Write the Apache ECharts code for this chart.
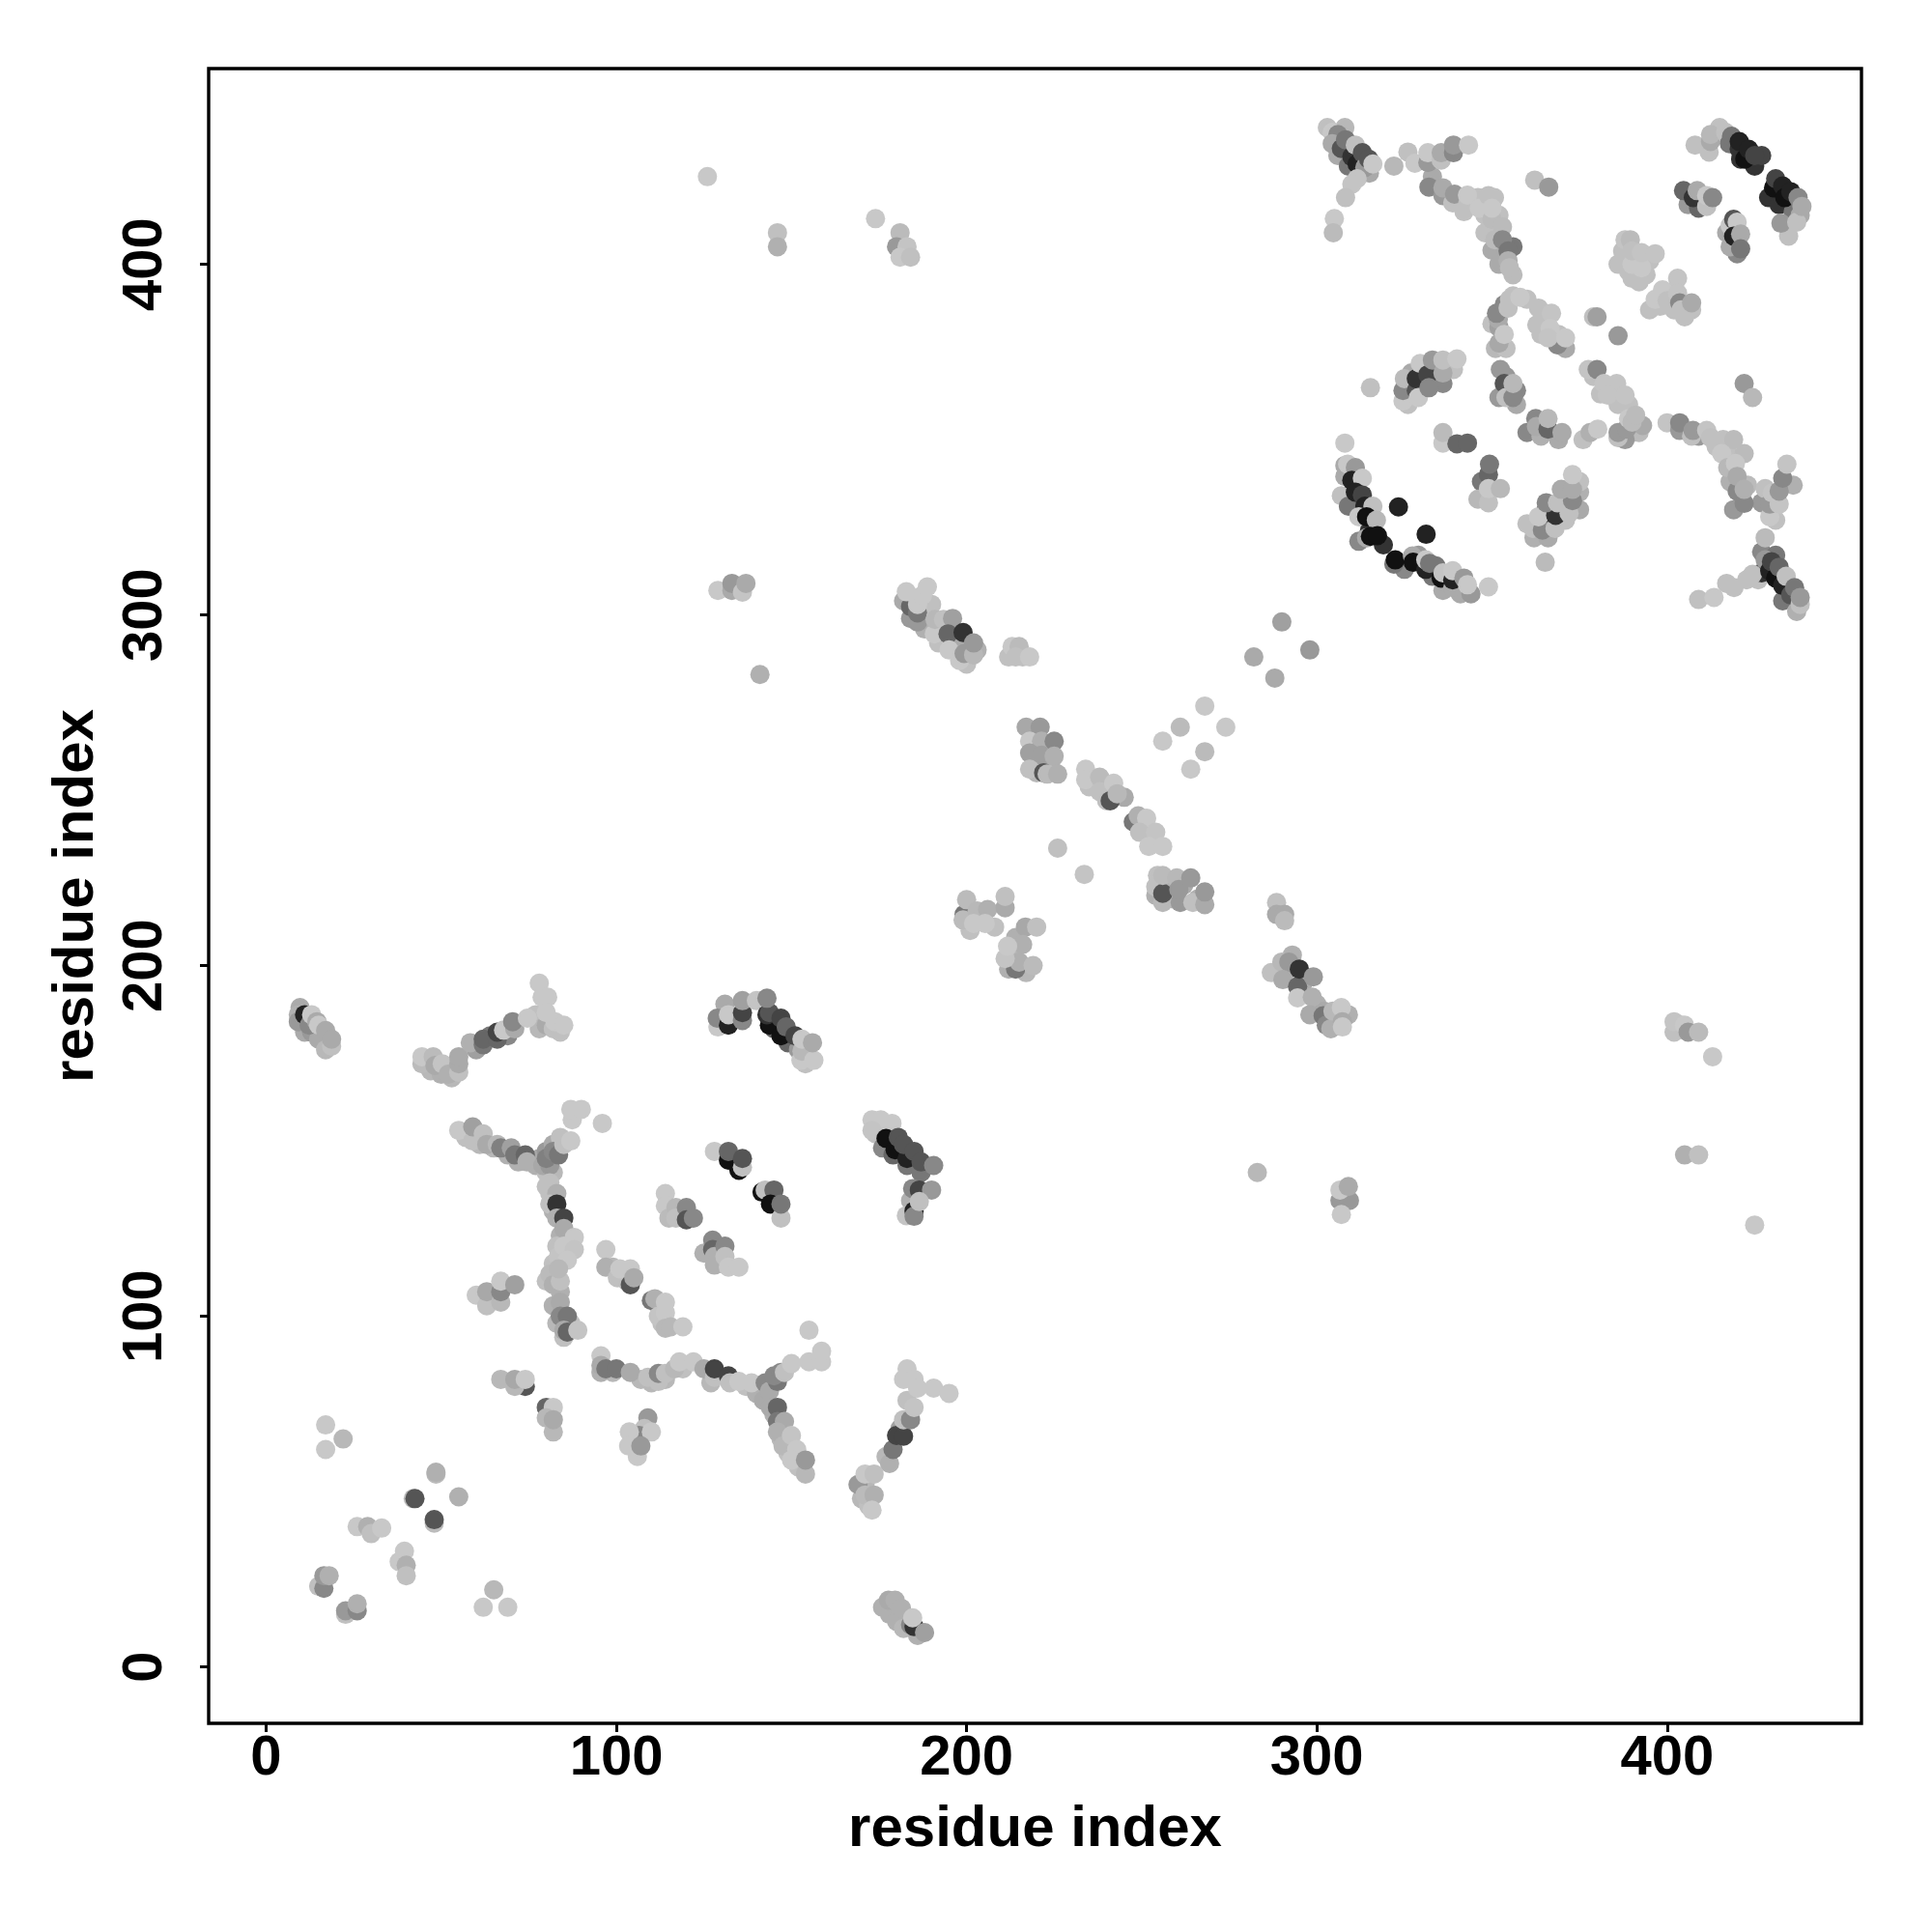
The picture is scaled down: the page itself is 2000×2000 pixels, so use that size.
<!DOCTYPE html>
<html><head><meta charset="utf-8"><style>html,body{margin:0;background:#fff}#c{width:2000px;height:2000px}</style>
<script src="https://cdn.jsdelivr.net/npm/echarts@6/dist/echarts.min.js"></script></head><body><div id="c"></div>
<script>
const tickValues=[0,100,200,300,400];
const axisTitle="residue index";
// each row: residue i, residue j, grey level of the contact
const underLayer=[[57,151,192],[61,149,184],[65,148,184],[69,146,176],[72,144,176],[77,143,176],[78,145,168],[80,147,153],[82,149,170],[84,151,192],[80,141,192],[82,141,184],[80,137,192],[82,130,176],[84,123,176],[86,121,192],[83,120,192],[82,115,192],[80,110,192],[84,107,176],[82,103,176],[83,98,184],[85,94,192],[87,98,192],[99,84,184],[107,82,184],[110,81,184],[114,82,184],[119,85,192],[127,81,184],[137,80,192],[140,78,176],[142,76,170],[145,72,176],[147,65,184],[149,61,192],[152,57,192],[101,112,192],[103,110,184],[99,114,184],[112,103,192],[113,98,192],[118,129,184],[125,118,176],[130,115,176],[174,152,192],[176,148,136],[179,146,102],[183,143,119],[187,141,119],[184,133,176],[171,52,184],[170,48,184],[172,46,192],[176,17,176],[178,15,176],[180,13,176],[182,11,184],[186,9,176],[183,76,192],[181,68,160],[177,60,184],[11,181,170],[13,181,153],[15,179,170],[17,176,184],[47,170,184],[50,169,176],[53,168,184],[60,176,160],[64,180,119],[69,180,136],[77,186,192],[78,182,184],[84,181,192],[131,189,170],[145,182,102],[149,178,102],[152,176,153],[154,172,192],[190,303,192],[184,299,153],[188,296,176],[192,292,192],[197,291,170],[200,286,192],[203,290,176],[212,288,192],[216,288,192],[219,266,170],[222,258,176],[220,255,184],[224,257,176],[235,251,192],[240,247,192],[239,252,192],[245,248,170],[250,240,192],[253,236,192],[254,220,176],[257,223,176],[259,219,176],[262,223,170],[266,219,176],[201,210,192],[204,214,192],[208,211,192],[213,204,184],[214,208,176],[212,199,176],[217,198,184],[291,198,176],[293,203,176],[296,195,170],[300,189,176],[302,187,170],[305,184,170],[309,186,176],[404,183,184],[179,150,136]];
const underLayer2=[[303,439,192],[308,439,184],[306,431,170],[309,428,119],[312,426,136],[315,426,170],[412,432,192],[415,439,192],[421,430,51],[425,428,51],[427,431,68],[429,419,51],[432,417,51],[436,415,119],[438,414,170],[406,417,153],[409,416,102],[417,409,170],[420,403,136],[418,405,170],[333,425,170],[326,432,192],[342,415,192],[346,419,192],[348,414,192],[352,414,192],[348,409,192],[350,404,170],[352,400,170],[356,405,119],[356,397,187],[386,400,192],[388,401,192],[389,398,192],[392,395,192],[394,397,192],[395,401,192],[395,387,192],[398,388,192],[401,392,192],[402,387,192],[405,385,192],[350,383,192],[352,382,160],[356,391,192],[360,390,192],[365,384,192],[364,380,192],[369,380,192],[371,376,170],[351,376,184],[354,376,192],[379,368,192],[381,363,192],[386,360,192],[389,360,192],[390,352,170],[392,352,187],[393,354,170],[388,350,153],[376,350,192],[326,360,192],[327,369,170],[331,366,119],[334,371,192],[336,366,136],[339,370,192],[354,368,153],[357,364,136],[357,360,170],[352,362,153],[360,352,136],[369,350,170],[364,351,176],[347,338,119],[346,333,184],[349,332,192],[307,334,192],[309,331,119],[315,324,51],[312,321,136],[319,320,51],[325,313,136],[329,317,153],[334,314,119],[333,311,119],[336,307,170],[341,306,170],[344,306,153],[360,326,192],[362,322,176],[366,322,170],[371,327,192],[375,330,170],[375,335,176],[375,338,192],[409,351,153],[414,348,192],[417,347,192],[422,346,187],[418,338,176],[423,337,187],[419,330,153],[431,327,192],[427,332,153],[428,336,192],[436,337,176],[427,318,136],[431,317,119],[433,304,119],[437,301,176],[417,309,192],[426,310,192],[427,312,51]];
const lowerLeft=[[17,69,200],[22,65,184],[17,62,200],[48.5,55,187],[48.5,55.5,176],[55,48.5,176],[42,48,187],[42.5,48,85],[48,41,187],[48,42,85],[26,40,200],[29,40,176],[30,38,192],[33,39.6,200],[38,30,200],[39.5,33,200],[40,29,176],[40,26,192],[15,23,192],[16.5,22.4,136],[16.5,26,153],[18,26,176],[22.7,15,192],[22.7,16,153],[26,16,136],[26,18,176],[65,22,184],[62,17,200],[69,17,200]];
const strandA=[[55,153,200],[59,150,192],[59,154,160],[62,152,192],[63,149,170],[66,149,184],[67,148,128],[70,148,160],[71,146,119],[74,146,102],[74.5,144,176],[79,143,168],[81,143,153],[80,145,128],[82,147,136],[83.5,146,119],[85,149,192],[87,150,200],[87.4,156,200],[87,159,200],[90,159,200],[96,155,200]];
const strandB=[[81,138,192],[81,135,192],[83,135,176],[81,132,192],[83,132,51],[83,128,176],[85,128,68],[85,125,170],[83.5,117,196],[85,120,200],[88,122.5,200],[88,119,196],[86,116,200],[81,112,187],[82,109,176],[84,110,192],[83.5,113.5,184],[84,104,170],[84,100,136],[86,100,119],[85,96,170],[86,95.5,102],[89,96,196]];
const patches1=[[60,106,200],[63,103,192],[63,107,168],[67,104,184],[67,107,136],[67,110,200],[71,109,160],[97,119,200],[97,114,176],[100.3,111,192],[101,113.5,200],[104,109,85],[104,113.5,200],[105,111,170],[110,104.5,119],[111,105,176],[112,100,196],[114,104,200],[114,101,200],[114,96.6,184],[115.5,97,184],[119,97,200],[114,135,200],[114,131.5,200],[115,128,187],[117,131,184],[117,128,192],[120,131,136],[120,127.5,85],[122,128,136],[127.5,121.7,136],[127.5,119,102],[128,117,176],[128,114.6,176],[131,120,136],[131,117,192],[132,114,200],[135,114,200]];
const patches2=[[128,147,200],[132,144.5,17],[132,147,102],[135,141.6,17],[136,142.5,192],[136,145,85],[141.6,135.4,17],[142.5,136,192],[145,136,102],[144,132,17],[147,128,192],[147,132,119],[74,80,85],[67,82,184],[71,80,184],[71,82,168],[74,82,200],[80,74,102],[82,74,200],[80,71,184],[82,67,184],[82,70.5,170]];
const arcK=[[95.6,88.7,200],[95.6,84,176],[95.6,86,170],[97,85,119],[100,85,119],[104,84,170],[109,82.6,192],[112,81.4,192],[112,83.7,136],[114,83.7,192],[116.6,85,184],[118,87,200],[122,87,200],[125,85,170],[128,82.6,192],[128,85,68],[132,83,68],[132.4,81,192],[135,81.4,200],[138.6,81,200],[142.5,81,136],[143.7,78.6,170],[146,81.4,119],[145,83,136],[147,84,136],[148,84,192],[150,86.5,200],[155,87,200],[158.6,87,200],[158.6,90,200],[155,96,200],[144,74,170],[146,74,102],[146,70,119],[148,70,170],[146,67,176],[147.6,63,184],[150,66,196],[151.5,62,200],[150,59,200],[154,55,184],[154,59,153]];
const patches3=[[109,71,153],[108,68,192],[106.5,66,136],[110,67,200],[103.7,67,200],[103.5,63,200],[106,60,200],[107,63,153],[173,156,200],[175.5,156,200],[178.7,155,200],[173,153,196],[177,150.7,17],[179.6,147.5,17],[180.5,151,85],[183,145,34],[182,149,85],[185,147,85],[187,144,85],[190.6,143,136],[184.6,136.4,136],[186.5,136,68],[190,136,153],[182.8,128.7,196],[185,130,34],[185,128.5,136],[186.5,132.7,192]];
const patches4=[[178,58,176],[179,62,119],[180,66,68],[182,65.8,68],[182,70.5,192],[184,70.5,136],[185,74,196],[182,82,200],[183,85,200],[185,82,200],[186,79.5,200],[190.6,79.5,200],[195,78,200],[169,52,153],[171,55,200],[173.6,55,192],[171,49,187],[173.6,49,176],[173,44.7,200],[177.7,19,170],[179.6,19,176],[181.4,16.7,176],[184,12,136],[185,11.5,51],[184.6,14,200],[188,9.8,160]];
const upperStrands=[[9.7,188,170],[9.2,186,176],[9.2,184,153],[11,186,34],[12.3,183,136],[13,186,200],[14.5,184,170],[15,183,200],[17,181.5,170],[18.7,177,192],[18.7,179,170],[44.5,172,187],[44.5,174,200],[47.7,174,187],[48.2,171.5,170],[50.3,172,196],[52,169,176],[55,169.6,192],[55,172,170],[55,174,170],[58.3,178,176],[62,177.4,119],[62,179,102],[66,179,102],[66,181,68],[67.8,181.6,200],[71,182,170],[70.4,184,136],[74.6,185,200],[78,195,200],[78.8,191,200],[80.4,191,200],[80,183,170],[80,186.6,200],[82,182,192],[82.5,184,200],[85,183,200],[129,182.5,200],[128.8,185,136],[132,183,34],[132,186,200],[136,184.3,136],[136,186.6,68],[136,190,160],[140,190,196],[143.7,183,17],[143,186,51],[143.7,186.6,85],[143,190.7,136],[147,180,17],[147,185,68],[148.5,182.5,102],[151,180,68],[152.7,173,200],[153,175.6,184],[153,179,200],[156.4,173,200],[156,178,170]];
const midLeft=[[126,425,200],[146,409,192],[146,405,176],[174,413,200],[181,409,187],[180,405,153],[183,405,196],[181,402,200],[184,402,192],[129,307,200],[133,307,170],[133,309,153],[136,306.5,196],[137,309,170],[141,283,176]];
const centreA=[[182,304,170],[184,302.4,102],[186,298,153],[186,300.6,119],[182.8,306.6,200],[186,303,200],[187.4,305.6,200],[188.8,308,200],[190.8,294.6,200],[191,298.7,184],[193.4,298.7,192],[196,299,160],[194.7,294.6,102],[199,295,51],[195,290,200],[198,287,200],[199.3,289,153],[202,288.6,184],[202,292,153],[213,291,200],[215,291,187],[214,288,192],[218,288,200]];
const centreB=[[217,268,168],[221,268,153],[218,264,200],[221.4,264,176],[225,264,136],[218,260.6,160],[221.4,260,160],[225,259.7,176],[218,256,192],[222,255,85],[223,254.6,187],[226,254.6,176],[234,256,200],[234,253,200],[238,253.7,187],[238,249.6,192],[242,252,200],[241,247,85],[243,249,184],[247.6,241,119],[249,242.7,176],[251.4,242,200],[249.4,238,192],[254,238,196],[252,234,200],[256,234,200],[226,233.5,192],[233.6,226,196]];
const centreC=[[254.5,225.7,192],[256,218,184],[254,222.5,192],[256,220.6,85],[256,225.7,187],[260,225,184],[261,218,153],[260.6,221.7,153],[264,225,153],[264.6,218,192],[268,217.4,170],[268,221,153],[290,298,160],[282,288,170],[298,290,153],[288,282,170],[268,274,200],[261,268,187],[274,268,200],[256,264,200],[268,261,187],[264,256,200],[199.3,214.6,119],[199,213,187],[200,218.8,187],[203,215.6,184],[206,216,176],[211,216.5,170],[211,219.7,192],[202,212,200],[205.3,212,200],[216.8,211,168],[220,211,192],[214,199,119],[215,201,176],[216,206,176],[211,202,196],[211.7,205.5,200],[219,200,187]];
const centreD=[[288.5,218,192],[288.5,214.6,170],[290.8,214.6,170],[290.8,212.8,187],[287,198,192],[290,201,184],[292,201,153],[290.3,196,170],[294.5,194,102],[295,199,51],[299,196.8,153],[294.5,190.8,200],[298.7,191,176],[298,186,170],[301.8,185.7,119],[302.7,183,136],[304,182,176],[304.6,187,184],[307,188,200],[307.3,184,170],[307.3,182.5,200],[283,141,184],[306.6,133,153],[309.3,133,153],[306.6,136,200],[309,137,170],[307,129,200],[402,181,192],[402,184,196],[405,183,200],[406,181,153],[409,181,187],[413,174,200],[405,146,176],[409,146,192],[425,126,200]];
const upperRightA=[[304.4,437.6,200],[306,437,136],[304.4,434.4,170],[307,433,85],[308.2,435.5,119],[310,430.7,51],[311,434,192],[311.5,428.6,34],[313,431.8,85],[313.7,427.6,153],[314.8,430,85],[316,428.6,200],[311.5,424.4,196],[310,422.8,196],[308.2,419,192],[305,413,200],[304.7,409,187],[322,428,184],[328,428.8,200],[331.7,429,153],[331.7,431.8,200],[335.5,429.7,192],[335.5,431.8,170],[339,431.8,136],[339,434,153],[343.3,434,200]];
const upperRightB=[[332,422,136],[336,419.6,153],[336,421.8,170],[338.8,417.5,192],[339.3,420,153],[343,417,192],[343,419.7,200],[346.4,416,200],[349,419.6,192],[350.7,419,192],[350,412.8,187],[350,416,200],[350.8,407,187],[353,410.7,187],[353,407,136],[354.6,403.8,119],[354.6,401,176],[355,399,187],[362.2,424,192],[366.2,422,153]];
const upperRightC=[[408,434,192],[412.4,435,170],[412.4,437,184],[416.7,437.6,192],[417.8,434.4,119],[418.4,436.5,119],[420.6,432.8,51],[420.6,435,34],[422.2,430,17],[423.3,432.8,34],[425,431,68],[430.4,421.8,17],[431,424.4,68],[433,422.3,34],[433.6,419,17],[435.3,420.7,34],[437.4,419,136],[434.7,408,192],[432.5,411.7,153],[437,412,192],[438.5,416.5,170],[404.7,421,102],[407.5,419,51],[408.6,421,170],[411.3,416.5,192],[411.3,419.6,200],[413,419,136],[418,411,200],[419,412.8,85],[420,412,200],[419,408,34],[421,408.6,170],[421,404.4,119]];
const upperRightD=[[387.3,403.8,192],[388,407,196],[389.5,407,187],[390,396,192],[390,400,200],[390,403.8,192],[392.7,399,200],[392.7,403.3,196],[396.6,403,196],[396.6,390,200],[398.7,392.7,200],[400,389.6,192],[403,396,196],[403,391.7,196],[403.6,389,136],[404,387,192],[407,387,192],[407,389,170]];
const coreA=[[351.8,384.3,170],[351.3,386,136],[353.5,388.5,136],[354.6,387.5,192],[355,390,192],[358,390.6,200],[363.3,387.5,192],[362.8,382.7,192],[367,386,196],[366.6,381.7,200],[368.7,377,136],[366,379,196],[371,379,200],[352,377.5,168],[353.5,380,200],[379,385,192],[380,385,160],[386,379.6,153],[377.5,370,196],[380,370,136],[382,366,196],[385.6,366,196],[383,362.7,196],[388,362.7,196],[386,350.6,192],[386,352,153],[388.4,353,153],[378,352,176],[380.2,353,200],[389,356,200],[390,355,187],[391,357,187]];
const coreB=[[324.6,361,200],[324.6,364,136],[325,367.4,187],[328.4,364,85],[328.4,367.4,51],[329,362,200],[329.5,371.7,200],[331.7,368.5,68],[332,364.8,136],[333,372.7,153],[336,369,170],[336,372.7,192],[340,373,200],[315.3,364.8,192],[352.4,370,153],[353.5,366,85],[354,362,192],[356,362,136],[356,366,184],[362.5,356,136],[362.7,353.7,170],[366,353,102],[366,356,184],[370,352,170],[336,349,200],[336,352,187],[340,348.8,102],[343,349,102],[349,340,102],[349.3,343,119],[349,336,200],[352.4,336,184]];
const arcLower=[[308,349,200],[308,339.5,170],[308,342.6,170],[308.8,343,200],[311,342,153],[310,338.4,34],[313,339,200],[311,335,34],[313,334.2,68],[313.7,331,34],[316,331,192],[312,328,200],[314.2,328,17],[317,327,184],[314.2,322,170],[315.3,322.4,17],[317.3,322.6,17],[323.3,330.8,34],[331.2,323,34],[322,314.5,119],[322.4,315.7,17],[327.3,316.8,170],[327.5,315,17],[331.1,313,34],[331.1,315.7,200],[332.2,314.7,119],[335.5,310.5,17],[336,312,196],[338.8,307.8,170],[338.8,310,34],[338.8,312.6,200],[342,310.5,153],[343,308.6,200],[349,308,200]];
const coreC=[[361.7,324.7,192],[364.4,324.2,136],[368,324.7,192],[365,329,51],[363.3,328,200],[368.2,328.4,51],[365.5,332,136],[368.7,332,192],[372,329,192],[373,332.6,136],[369.8,335.8,170],[373,335.8,170],[373,340,200],[365.2,315,187]];
const rightLower=[[400,354.8,196],[403.6,352.6,153],[403.6,354.8,136],[407,351,192],[407.4,352.6,153],[411.3,352.6,196],[412.4,350.6,192],[416,350,192],[419,350,187],[415.6,346,200],[417.3,342,184],[419.5,343.2,200],[420,335.3,136],[420,339.5,170],[422,331.8,136],[422,335.8,176],[422,366,153],[424.4,362,184],[428,322,187],[429.3,328,200],[429.3,331.6,153],[430,334.8,196],[432,331.6,196],[432,335.3,153],[433,339,136],[434.2,343,196],[424.4,311.6,192],[422.7,310,192],[419.1,307.8,192],[409,304.4,192],[413.4,305,200],[428,315.7,153],[429.3,312.6,34],[429.8,315.2,68],[431,310.5,17],[432,313.6,102],[433,308.4,34],[434,311,192],[435.3,305.7,85],[436.4,307.8,119],[438,303,192],[438,305,153]];

const contacts=[...underLayer,...underLayer2,...lowerLeft,...strandA,...strandB,...patches1,...patches2,...arcK,...patches3,...patches4,...upperStrands,...midLeft,...centreA,...centreB,...centreC,...centreD,...upperRightA,...upperRightB,...upperRightC,...upperRightD,...coreA,...coreB,...arcLower,...coreC,...rightLower];
const font=size=>({fontFamily:'"Liberation Sans"',fontWeight:'bold',fontSize:size,color:'#000'});
const axis=(min,max,gap,margin,rot)=>({type:'value',min,max,name:axisTitle,nameLocation:'middle',nameGap:gap,nameTextStyle:font(60),
 splitLine:{show:false},axisLine:{show:false,onZero:false},
 axisTick:{show:true,length:9,customValues:tickValues,lineStyle:{color:'#000',width:3}},
 axisLabel:{...font(58),margin,rotate:rot,customValues:tickValues,formatter:v=>String(v)}});
const chart=echarts.init(document.getElementById('c'),null,{renderer:'canvas'});
chart.setOption({animation:false,backgroundColor:'#fff',
 grid:{left:216,top:71,width:1711,height:1713,show:true,borderColor:'#000',borderWidth:3.4,backgroundColor:'transparent',containLabel:false},
 xAxis:axis(-16.4,455.5,80,8,0),
 yAxis:axis(-16.1,455.8,107,36,90),
 series:[{type:'scatter',symbol:'circle',symbolSize:20,silent:true,data:contacts,
  itemStyle:{opacity:1,color:p=>{const g=p.value[2];return `rgb(${g},${g},${g})`;}}}]});
</script></body></html>
